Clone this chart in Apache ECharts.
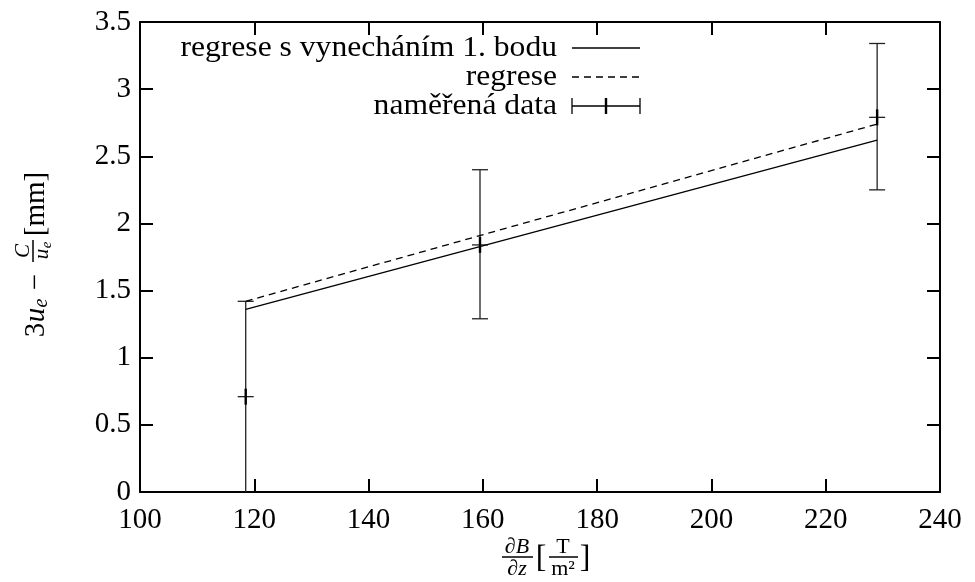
<!DOCTYPE html>
<html lang="cs">
<head>
  <meta charset="UTF-8" />
  <title>Regrese</title>
  <script src="https://cdn.jsdelivr.net/npm/echarts@6/dist/echarts.min.js"></script>
  <style>
    body { margin: 0; background: #fff; }
    #chart { width: 975px; height: 582px; }
  </style>
</head>
<body>
  <div id="chart"></div>
  <script>
    // measured points: [x, y, low, high]
    const measured = [
      [118.5, 0.71, -0.03, 1.42],
      [159.5, 1.84, 1.29, 2.40],
      [229.0, 2.79, 2.25, 3.34]
    ];
    // regression without first point
    const fitReduced = [[118.5, 1.36], [229.0, 2.62]];
    // regression over all points
    const fitAll = [[118.5, 1.42], [229.0, 2.74]];

    const xTicks = [100, 240, 20];
    const yTicks = [0, 3.5, 0.5];

    const names = ['regrese s vynecháním 1. bodu', 'regrese', 'naměřená data'];

    const FONT = '"Liberation Serif", "DejaVu Serif", serif';
    const INK = '#000';

    const chart = echarts.init(document.getElementById('chart'));

    function errorBar(params, api) {
      const x = api.value(0);
      const p = api.coord([x, api.value(1)]);
      const lo = api.coord([x, api.value(2)]);
      const hi = api.coord([x, api.value(3)]);
      const w = 8;
      const thin = { stroke: '#222', lineWidth: 1.3 };
      return {
        type: 'group',
        children: [
          { type: 'line', shape: { x1: lo[0], y1: lo[1], x2: hi[0], y2: hi[1] }, style: thin },
          { type: 'line', shape: { x1: lo[0] - w, y1: lo[1], x2: lo[0] + w, y2: lo[1] }, style: thin },
          { type: 'line', shape: { x1: hi[0] - w, y1: hi[1], x2: hi[0] + w, y2: hi[1] }, style: thin },
          { type: 'line', shape: { x1: p[0] - w, y1: p[1], x2: p[0] + w, y2: p[1] }, style: thin },
          { type: 'line', shape: { x1: p[0], y1: p[1] - w, x2: p[0], y2: p[1] + w }, style: { stroke: INK, lineWidth: 2.4 } }
        ]
      };
    }

    function axisX(pos, labels) {
      return {
        type: 'value', position: pos,
        min: xTicks[0], max: xTicks[1], interval: xTicks[2],
        axisLine: { show: true, onZero: false, lineStyle: { color: INK, width: 2 } },
        axisTick: { show: true, inside: true, length: 13, lineStyle: { color: INK, width: 2 } },
        axisLabel: { show: labels, color: INK, fontFamily: FONT, fontSize: 29, margin: 14 },
        splitLine: { show: false }
      };
    }
    function axisY(pos, labels) {
      return {
        type: 'value', position: pos,
        min: yTicks[0], max: yTicks[1], interval: yTicks[2],
        axisLine: { show: true, onZero: false, lineStyle: { color: INK, width: 2 } },
        axisTick: { show: true, inside: true, length: 13, lineStyle: { color: INK, width: 2 } },
        axisLabel: { show: labels, color: INK, fontFamily: FONT, fontSize: 29, margin: 9 },
        splitLine: { show: false }
      };
    }

    function txt(x, y, s, size, opts) {
      return Object.assign({
        type: 'text', x: x, y: y,
        style: Object.assign({
          text: s, fill: INK, font: (opts && opts.italic ? 'italic ' : '') + size + 'px ' + FONT,
          align: 'center', verticalAlign: 'middle'
        }, opts && opts.style)
      }, opts && opts.scaleX ? { scaleX: opts.scaleX } : {});
    }
    function seg(x1, y1, x2, y2, w, dash) {
      return {
        type: 'line', shape: { x1: x1, y1: y1, x2: x2, y2: y2 },
        style: { stroke: INK, lineWidth: w || 1.3, lineDash: dash || null }
      };
    }

    // y axis title: 3u_e - C/u_e [mm], drawn horizontally then rotated
    const yTitle = {
      type: 'group', x: 33, y: 337, rotation: Math.PI / 2,
      children: [
        txt(7, 3, '3', 29),
        txt(22, 3, 'u', 29, { italic: true }),
        txt(34, 9, 'e', 20, { italic: true }),
        txt(55, 3, '−', 29),
        txt(86, -10, 'C', 21, { italic: true }),
        seg(75, 0, 97, 0, 1.5),
        txt(83, 9, 'u', 21, { italic: true }),
        txt(92, 14, 'e', 15, { italic: true }),
        txt(133, 3, '[mm]', 29)
      ]
    };

    // x axis title: dB/dz [T/m^2]
    const xTitle = {
      type: 'group', x: 0, y: 0,
      children: [
        txt(517, 547, '∂B', 22, { italic: true }),
        seg(502, 557, 533, 557, 1.5),
        txt(517, 569, '∂z', 22, { italic: true }),
        txt(541, 559, '[', 32),
        txt(563, 547, 'T', 22),
        seg(549, 557, 578, 557, 1.5),
        txt(563, 569, 'm²', 22),
        txt(585, 559, ']', 32)
      ]
    };

    // legend: right-aligned labels with samples on the right
    const legendRows = [48, 77, 106];
    const lx1 = 572, lx2 = 640, lxm = 606;
    const wide = { style: { align: 'right' }, scaleX: 1.09 };
    const legend = {
      type: 'group',
      children: [
        txt(557, legendRows[0], names[0], 29, wide),
        seg(lx1, legendRows[0], lx2, legendRows[0], 1.3),
        txt(557, legendRows[1], names[1], 29, wide),
        seg(lx1, legendRows[1], lx2, legendRows[1], 1.3, [7, 5]),
        txt(557, legendRows[2], names[2], 29, wide),
        seg(lx1, legendRows[2], lx2, legendRows[2], 1.3),
        seg(lx1, legendRows[2] - 8, lx1, legendRows[2] + 8, 1.3),
        seg(lx2, legendRows[2] - 8, lx2, legendRows[2] + 8, 1.3),
        seg(lxm, legendRows[2] - 8, lxm, legendRows[2] + 8, 2.4)
      ]
    };

    chart.setOption({
      backgroundColor: '#fff',
      animation: false,
      grid: { left: 140, right: 35, top: 22, bottom: 90 },
      xAxis: [axisX('bottom', true), axisX('top', false)],
      yAxis: [axisY('left', true), axisY('right', false)],
      graphic: [yTitle, xTitle, legend],
      series: [
        {
          name: names[0], type: 'line', data: fitReduced,
          symbol: 'none', lineStyle: { color: INK, width: 1.3 }
        },
        {
          name: names[1], type: 'line', data: fitAll,
          symbol: 'none', lineStyle: { color: INK, width: 1.3, type: [7, 5] }
        },
        {
          name: names[2], type: 'custom', data: measured,
          renderItem: errorBar, clip: true
        }
      ]
    });

    window.addEventListener('resize', () => chart.resize());
  </script>
</body>
</html>
